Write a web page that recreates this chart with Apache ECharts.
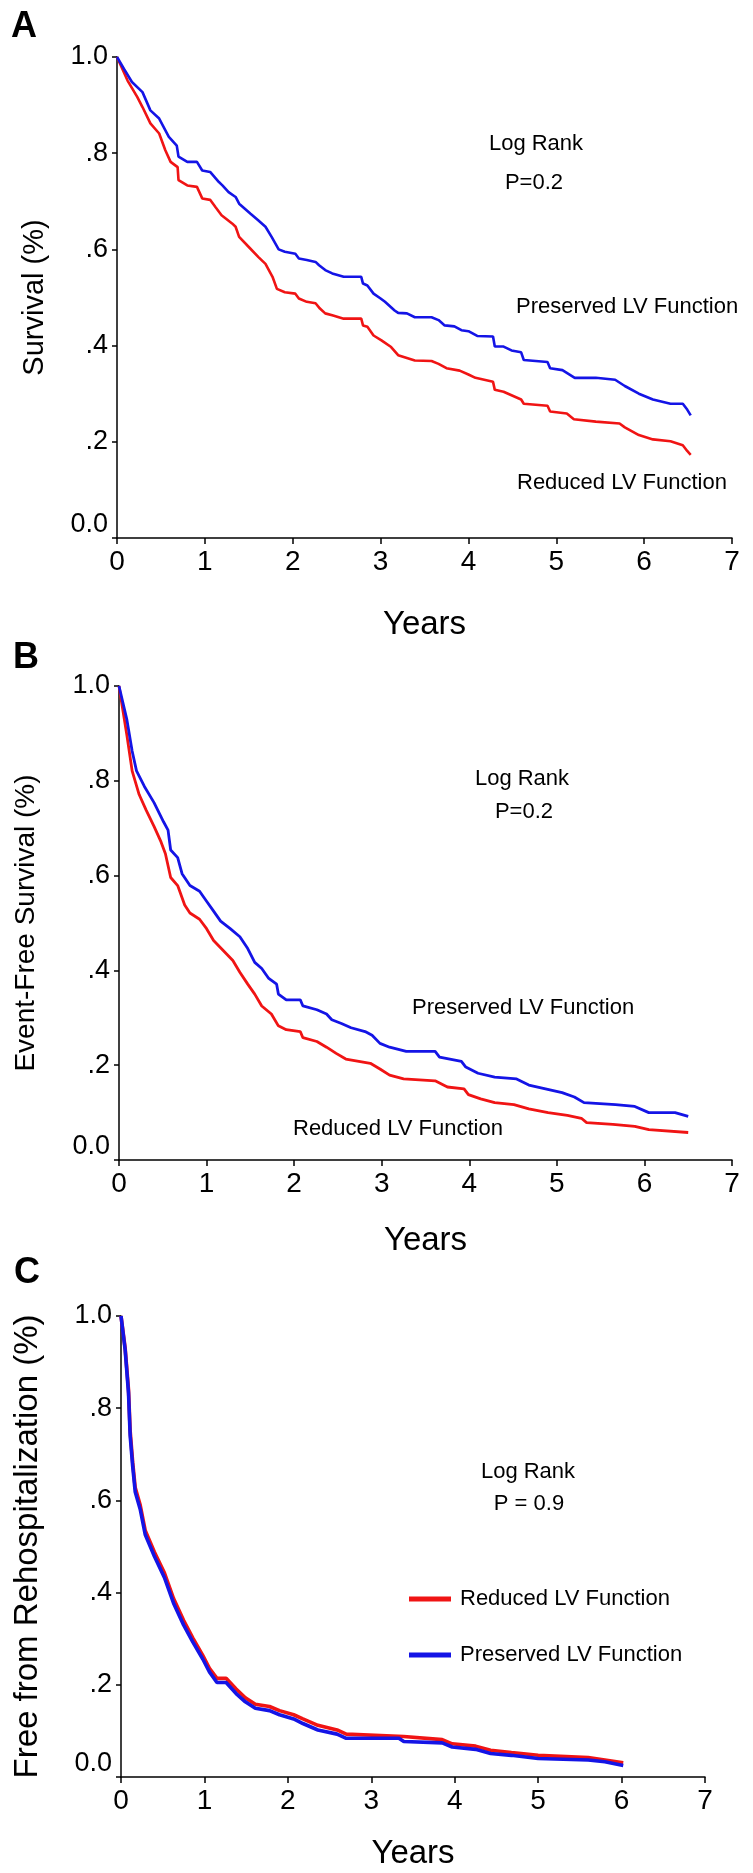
<!DOCTYPE html>
<html>
<head>
<meta charset="utf-8">
<script src="https://cdn.jsdelivr.net/npm/echarts@6/dist/echarts.min.js"></script>
<style>
html,body{margin:0;padding:0;background:#fff;}
#chart{width:753px;height:1873px;}
</style>
</head>
<body>
<div id="chart"></div>
<script>
// ---------- DATA ----------
const xTickLabels = ['0','1','2','3','4','5','6','7'];
const yTickLabels = ['0.0','.2','.4','.6','.8','1.0'];
const seriesNames = ['Reduced LV Function','Preserved LV Function'];
const panelLetters = ['A','B','C'];
const yTitles = ['Survival (%)','Event-Free Survival (%)','Free from Rehospitalization (%)'];
const xTitle = 'Years';
const pValues = ['P=0.2','P=0.2','P = 0.9'];

// Panel A: survival [years, proportion]
const survReduced = [[0,1.0],[0.12,0.951],[0.23,0.917],[0.29,0.896],[0.38,0.862],[0.48,0.841],[0.55,0.806],[0.61,0.782],[0.69,0.771],[0.70,0.744],[0.80,0.733],[0.91,0.730],[0.97,0.706],[1.06,0.703],[1.12,0.688],[1.19,0.671],[1.31,0.654],[1.35,0.647],[1.39,0.626],[1.50,0.605],[1.61,0.584],[1.69,0.570],[1.77,0.543],[1.82,0.518],[1.91,0.511],[2.03,0.508],[2.07,0.498],[2.16,0.491],[2.26,0.488],[2.31,0.477],[2.37,0.467],[2.45,0.463],[2.58,0.456],[2.78,0.456],[2.80,0.442],[2.85,0.439],[2.92,0.421],[3.01,0.411],[3.12,0.397],[3.20,0.380],[3.39,0.369],[3.58,0.368],[3.66,0.362],[3.75,0.353],[3.90,0.348],[4.00,0.340],[4.08,0.333],[4.28,0.325],[4.30,0.308],[4.40,0.304],[4.60,0.288],[4.63,0.279],[4.90,0.275],[4.93,0.263],[5.12,0.259],[5.20,0.247],[5.45,0.242],[5.72,0.238],[5.78,0.230],[5.94,0.214],[6.10,0.205],[6.30,0.201],[6.44,0.193],[6.49,0.181],[6.53,0.173]];
const survPreserved = [[0,1.0],[0.08,0.975],[0.17,0.948],[0.29,0.927],[0.38,0.889],[0.48,0.872],[0.59,0.834],[0.68,0.816],[0.70,0.793],[0.80,0.782],[0.91,0.782],[0.97,0.764],[1.06,0.761],[1.16,0.740],[1.20,0.733],[1.27,0.719],[1.35,0.709],[1.39,0.695],[1.52,0.674],[1.61,0.660],[1.69,0.647],[1.76,0.626],[1.84,0.600],[1.91,0.595],[2.03,0.591],[2.07,0.581],[2.16,0.578],[2.26,0.574],[2.30,0.567],[2.37,0.557],[2.45,0.550],[2.58,0.543],[2.78,0.543],[2.80,0.529],[2.85,0.525],[2.92,0.508],[3.00,0.498],[3.05,0.491],[3.16,0.473],[3.20,0.468],[3.30,0.467],[3.39,0.459],[3.58,0.459],[3.66,0.453],[3.73,0.442],[3.84,0.440],[3.92,0.432],[4.00,0.430],[4.10,0.420],[4.28,0.419],[4.30,0.398],[4.40,0.398],[4.49,0.390],[4.60,0.386],[4.63,0.370],[4.90,0.366],[4.93,0.353],[5.07,0.349],[5.21,0.333],[5.45,0.333],[5.67,0.329],[5.78,0.316],[5.94,0.300],[6.10,0.288],[6.30,0.279],[6.44,0.279],[6.49,0.267],[6.53,0.255]];

// Panel B: event-free survival
const efsReduced = [[0,1.0],[0.09,0.896],[0.15,0.821],[0.23,0.771],[0.31,0.738],[0.40,0.704],[0.48,0.671],[0.53,0.646],[0.59,0.596],[0.67,0.579],[0.75,0.538],[0.81,0.521],[0.92,0.508],[1.00,0.488],[1.08,0.463],[1.19,0.442],[1.30,0.421],[1.38,0.396],[1.47,0.371],[1.55,0.350],[1.63,0.325],[1.74,0.308],[1.82,0.283],[1.91,0.275],[2.07,0.271],[2.10,0.258],[2.26,0.250],[2.37,0.238],[2.48,0.225],[2.59,0.213],[2.87,0.204],[2.98,0.192],[3.09,0.179],[3.25,0.171],[3.61,0.167],[3.75,0.154],[3.94,0.150],[3.99,0.138],[4.13,0.129],[4.29,0.121],[4.51,0.117],[4.68,0.108],[4.90,0.100],[5.12,0.094],[5.28,0.088],[5.34,0.079],[5.64,0.075],[5.89,0.071],[6.05,0.064],[6.50,0.058]];
const efsPreserved = [[0,1.0],[0.09,0.929],[0.15,0.863],[0.20,0.821],[0.29,0.788],[0.40,0.754],[0.51,0.713],[0.56,0.696],[0.59,0.654],[0.67,0.638],[0.72,0.604],[0.81,0.579],[0.92,0.567],[1.00,0.546],[1.08,0.525],[1.16,0.504],[1.27,0.488],[1.38,0.471],[1.47,0.446],[1.55,0.417],[1.63,0.404],[1.71,0.383],[1.80,0.371],[1.82,0.350],[1.91,0.338],[2.07,0.338],[2.10,0.325],[2.26,0.317],[2.37,0.308],[2.43,0.296],[2.54,0.288],[2.65,0.279],[2.81,0.271],[2.89,0.263],[2.98,0.246],[3.09,0.238],[3.28,0.229],[3.61,0.229],[3.66,0.217],[3.91,0.208],[3.96,0.196],[4.10,0.183],[4.29,0.175],[4.54,0.171],[4.68,0.158],[4.87,0.150],[5.06,0.142],[5.20,0.133],[5.31,0.121],[5.67,0.117],[5.89,0.113],[6.05,0.100],[6.35,0.100],[6.50,0.092]];

// Panel C: free from rehospitalization
const rehospReduced = [[0,1.0],[0.05,0.930],[0.09,0.840],[0.11,0.750],[0.14,0.683],[0.17,0.628],[0.23,0.590],[0.29,0.535],[0.40,0.488],[0.52,0.443],[0.63,0.387],[0.75,0.340],[0.86,0.302],[0.98,0.264],[1.06,0.236],[1.15,0.214],[1.26,0.214],[1.38,0.191],[1.49,0.172],[1.61,0.158],[1.78,0.153],[1.90,0.144],[2.07,0.135],[2.18,0.126],[2.36,0.112],[2.59,0.102],[2.70,0.093],[3.39,0.088],[3.85,0.081],[3.97,0.072],[4.25,0.067],[4.43,0.058],[4.68,0.053],[5.00,0.047],[5.60,0.042],[5.80,0.037],[6.02,0.031]];
const rehospPreserved = [[0,1.0],[0.05,0.926],[0.09,0.833],[0.11,0.740],[0.14,0.674],[0.17,0.619],[0.23,0.581],[0.29,0.526],[0.40,0.479],[0.52,0.433],[0.63,0.377],[0.75,0.330],[0.86,0.293],[0.98,0.256],[1.06,0.228],[1.15,0.205],[1.26,0.205],[1.38,0.181],[1.49,0.163],[1.61,0.149],[1.78,0.144],[1.90,0.135],[2.07,0.126],[2.18,0.116],[2.36,0.102],[2.59,0.093],[2.70,0.084],[3.33,0.084],[3.39,0.077],[3.85,0.074],[3.97,0.065],[4.25,0.060],[4.43,0.051],[4.68,0.047],[5.00,0.040],[5.60,0.037],[5.80,0.033],[6.02,0.025]];

// ---------- CHART ----------
const FONT = '"Liberation Sans", Arial, sans-serif';
const RED = '#f01414';
const BLUE = '#1414e6';
const chart = echarts.init(document.getElementById('chart'), null, {renderer:'canvas'});

const grids = [
  {left:117, right:21, top:57, height:481, outerBoundsMode:'none', containLabel:false},
  {left:119, right:21, top:686, height:474, outerBoundsMode:'none', containLabel:false},
  {left:121, right:48, top:1316, height:461, outerBoundsMode:'none', containLabel:false}
];
const xNameGaps = [87, 81, 77];
const yNameGaps = [82, 93, 93];
const yNameSizes = [29, 28, 33];

function yFmt(v){
  const i = Math.round(v/0.2);
  const s = yTickLabels[i];
  return i === 0 ? '{lift|' + s + '}' : s;
}
function xFmt(v){ return xTickLabels[Math.round(v)]; }

const axisLine = {show:true, lineStyle:{color:'#000', width:1.5}};
const xAxes = grids.map((g,i)=>({
  type:'value', gridIndex:i, min:0, max:7, interval:1,
  name:xTitle, nameLocation:'middle', nameGap:xNameGaps[i], nameMoveOverlap:false,
  nameTextStyle:{fontSize:33, fontFamily:FONT, color:'#000', verticalAlign:'middle', align:'center'},
  axisLine, axisTick:{show:true, length:6, lineStyle:{color:'#000', width:1.5}},
  axisLabel:{formatter:xFmt, fontSize:28, fontFamily:FONT, color:'#000', margin:10},
  splitLine:{show:false}
}));
const yAxes = grids.map((g,i)=>({
  type:'value', gridIndex:i, min:0, max:1, interval:0.2,
  name:yTitles[i], nameLocation:'middle', nameGap:yNameGaps[i], nameMoveOverlap:false,
  nameTextStyle:{fontSize:yNameSizes[i], fontFamily:FONT, color:'#000', verticalAlign:'middle', align:'center'},
  axisLine, axisTick:{show:true, length:5, lineStyle:{color:'#000', width:1.5}},
  axisLabel:{formatter:yFmt, fontSize:27, fontFamily:FONT, color:'#000', margin:9,
    rich:{lift:{fontSize:27, fontFamily:FONT, color:'#000', padding:[0,0,26,0]}}},
  splitLine:{show:false}
}));

function km(name, data, idx, color, width){
  return {name, type:'line', xAxisIndex:idx, yAxisIndex:idx, data, showSymbol:false,
    symbol:'none', lineStyle:{color, width}, itemStyle:{color}, animation:false, z:2};
}
const series = [
  km(seriesNames[0], survReduced, 0, RED, 2.6),
  km(seriesNames[1], survPreserved, 0, BLUE, 2.6),
  km(seriesNames[0], efsReduced, 1, RED, 2.8),
  km(seriesNames[1], efsPreserved, 1, BLUE, 2.8),
  km(seriesNames[0], rehospReduced, 2, RED, 3.6),
  km(seriesNames[1], rehospPreserved, 2, BLUE, 3.6)
];

function txt(text, x, y, align, size, bold){
  return {type:'text', x, y, silent:true, style:{text, fill:'#000',
    font:(bold?'bold ':'') + size + 'px ' + FONT, align, textAlign:align,
    verticalAlign:'middle', textVerticalAlign:'middle'}};
}
const graphic = [
  txt(panelLetters[0], 24, 27, 'center', 36, true),
  txt(panelLetters[1], 26, 658, 'center', 36, true),
  txt(panelLetters[2], 27, 1273, 'center', 36, true),
  txt('Log Rank', 536, 144, 'center', 22),
  txt(pValues[0], 534, 183, 'center', 22),
  txt(seriesNames[1], 516, 307, 'left', 22),
  txt(seriesNames[0], 517, 483, 'left', 22),
  txt('Log Rank', 522, 779, 'center', 22),
  txt(pValues[1], 524, 812, 'center', 22),
  txt(seriesNames[1], 412, 1008, 'left', 22),
  txt(seriesNames[0], 293, 1129, 'left', 22),
  txt('Log Rank', 528, 1472, 'center', 22),
  txt(pValues[2], 529, 1504, 'center', 22)
];

chart.setOption({
  animation:false,
  backgroundColor:'#fff',
  grid:grids,
  xAxis:xAxes,
  yAxis:yAxes,
  series,
  graphic,
  legend:{
    data:seriesNames, orient:'vertical', left:404, top:1583,
    icon:'rect', itemWidth:42, itemHeight:5, itemGap:34,
    textStyle:{fontSize:22, fontFamily:FONT, color:'#000', padding:[0,0,0,4]},
    selectedMode:false
  }
});
</script>
</body>
</html>
